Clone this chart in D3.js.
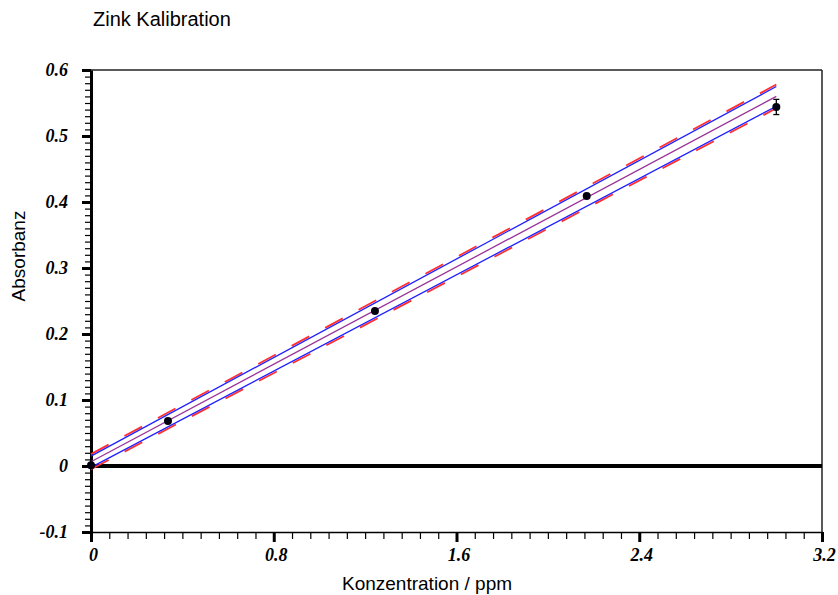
<!DOCTYPE html>
<html lang="de">
<head>
    <meta charset="UTF-8">
    <title>Zink Kalibration</title>
    <script src="https://d3js.org/d3.v7.min.js"></script>
    <style>
        body { margin: 0; background: #fff; }
        .tick-label { font-family: "Liberation Serif", "Times New Roman", serif; font-weight: bold; font-style: italic; font-size: 18px; fill: #000; }
        .title, .axis-title { font-family: "Liberation Sans", Arial, sans-serif; font-size: 19px; fill: #000; }
        .title { font-size: 20px; }
    </style>
</head>
<body>
<svg id="chart" width="838" height="595"></svg>
<script>
    // measured points (Konzentration in ppm, Absorbanz)
    var concentration = [0, 0.337, 1.243, 2.17, 3.0];
    var absorbance    = [0.001, 0.068, 0.235, 0.409, 0.544];
    var errors        = [0, 0, 0, 0, 0.0115];

    // regression line and bands, read at x = 0 and x = 3
    var lineX      = [0, 3.0];
    var fitY       = [0.0065, 0.560];
    var blueUpper  = [0.015, 0.575];
    var blueLower  = [-0.002, 0.545];
    var redUpper   = [0.018, 0.578];
    var redLower   = [-0.005, 0.542];

    var xMajor = [0, 0.8, 1.6, 2.4, 3.2];
    var yMajor = [-0.1, 0, 0.1, 0.2, 0.3, 0.4, 0.5, 0.6];

    var svg = d3.select("#chart");
    svg.append("rect").attr("width", 838).attr("height", 595).attr("fill", "#fff");

    var x = d3.scaleLinear().domain([0, 3.2]).range([91, 822]);
    var y = d3.scaleLinear().domain([-0.1, 0.6]).range([532, 70]);

    var xMinor = d3.range(0, 41).map(function(i) { return +(i * 0.08).toFixed(2); });
    var yMinor = d3.range(-10, 61).map(function(i) { return +(i * 0.01).toFixed(2); });

    // frame top + right
    svg.append("line").attr("x1", x(0)).attr("x2", x(3.2)).attr("y1", y(0.6)).attr("y2", y(0.6))
        .attr("stroke", "#222").attr("stroke-width", 1.5);
    svg.append("line").attr("x1", x(3.2)).attr("x2", x(3.2)).attr("y1", y(0.6)).attr("y2", y(-0.1))
        .attr("stroke", "#222").attr("stroke-width", 1.5);

    // zero line
    svg.append("line").attr("x1", x(0)).attr("x2", x(3.2)).attr("y1", y(0)).attr("y2", y(0))
        .attr("stroke", "#000").attr("stroke-width", 4);

    // x axis: minor, then major
    svg.append("g").attr("transform", "translate(0," + y(-0.1) + ")")
        .call(d3.axisBottom(x).tickValues(xMinor).tickSize(7).tickSizeOuter(0).tickFormat(""))
        .call(function(g) {
            g.select(".domain").attr("stroke", "#000").attr("stroke-width", 1.5);
            g.selectAll(".tick line").attr("stroke", "#000").attr("stroke-width", 1.2);
        });
    svg.append("g").attr("transform", "translate(0," + y(-0.1) + ")")
        .call(d3.axisBottom(x).tickValues(xMajor).tickSize(10).tickSizeOuter(0).tickPadding(6)
            .tickFormat(function(d) { return String(d); }))
        .call(function(g) {
            g.select(".domain").remove();
            g.selectAll(".tick line").attr("stroke", "#000").attr("stroke-width", 3);
            g.selectAll(".tick text").attr("class", "tick-label").attr("dx", 2);
        });

    // y axis: minor, then major
    svg.append("g").attr("transform", "translate(" + x(0) + ",0)")
        .call(d3.axisLeft(y).tickValues(yMinor).tickSize(6).tickSizeOuter(0).tickFormat(""))
        .call(function(g) {
            g.select(".domain").attr("stroke", "#000").attr("stroke-width", 3);
            g.selectAll(".tick line").attr("stroke", "#000").attr("stroke-width", 1.2);
        });
    svg.append("g").attr("transform", "translate(" + x(0) + ",0)")
        .call(d3.axisLeft(y).tickValues(yMajor).tickSize(9).tickSizeOuter(0).tickPadding(14)
            .tickFormat(function(d) { return String(d); }))
        .call(function(g) {
            g.select(".domain").remove();
            g.selectAll(".tick line").attr("stroke", "#000").attr("stroke-width", 3);
            g.selectAll(".tick text").attr("class", "tick-label");
        });

    // fit lines
    var line = d3.line().x(function(d) { return x(d[0]); }).y(function(d) { return y(d[1]); });
    function pairs(ys) { return lineX.map(function(v, i) { return [v, ys[i]]; }); }

    [redUpper, redLower].forEach(function(ys) {
        svg.append("path").attr("d", line(pairs(ys))).attr("fill", "none")
            .attr("stroke", "#ff3030").attr("stroke-width", 1.8).attr("stroke-dasharray", "20,18");
    });
    [blueUpper, blueLower].forEach(function(ys) {
        svg.append("path").attr("d", line(pairs(ys))).attr("fill", "none")
            .attr("stroke", "#1f1fff").attr("stroke-width", 1.3);
    });
    svg.append("path").attr("d", line(pairs(fitY))).attr("fill", "none")
        .attr("stroke", "#993399").attr("stroke-width", 1.3);

    // error bars
    concentration.forEach(function(c, i) {
        if (!errors[i]) return;
        var top = y(absorbance[i] + errors[i]), bot = y(absorbance[i] - errors[i]);
        svg.append("line").attr("x1", x(c)).attr("x2", x(c)).attr("y1", top).attr("y2", bot)
            .attr("stroke", "#000").attr("stroke-width", 1.3);
        [top, bot].forEach(function(yy) {
            svg.append("line").attr("x1", x(c) - 3).attr("x2", x(c) + 3).attr("y1", yy).attr("y2", yy)
                .attr("stroke", "#000").attr("stroke-width", 1.3);
        });
    });

    // points
    svg.selectAll(".pt").data(concentration).enter().append("circle")
        .attr("class", "pt")
        .attr("cx", function(d) { return x(d); })
        .attr("cy", function(d, i) { return y(absorbance[i]); })
        .attr("r", 4)
        .attr("fill", "#000010");

    // titles
    svg.append("text").attr("class", "title").attr("x", 93).attr("y", 26).text("Zink Kalibration");
    svg.append("text").attr("class", "axis-title").attr("x", 342).attr("y", 590).text("Konzentration / ppm");
    svg.append("text").attr("class", "axis-title")
        .attr("transform", "translate(25,256) rotate(-90)")
        .attr("text-anchor", "middle")
        .text("Absorbanz");
</script>
</body>
</html>
